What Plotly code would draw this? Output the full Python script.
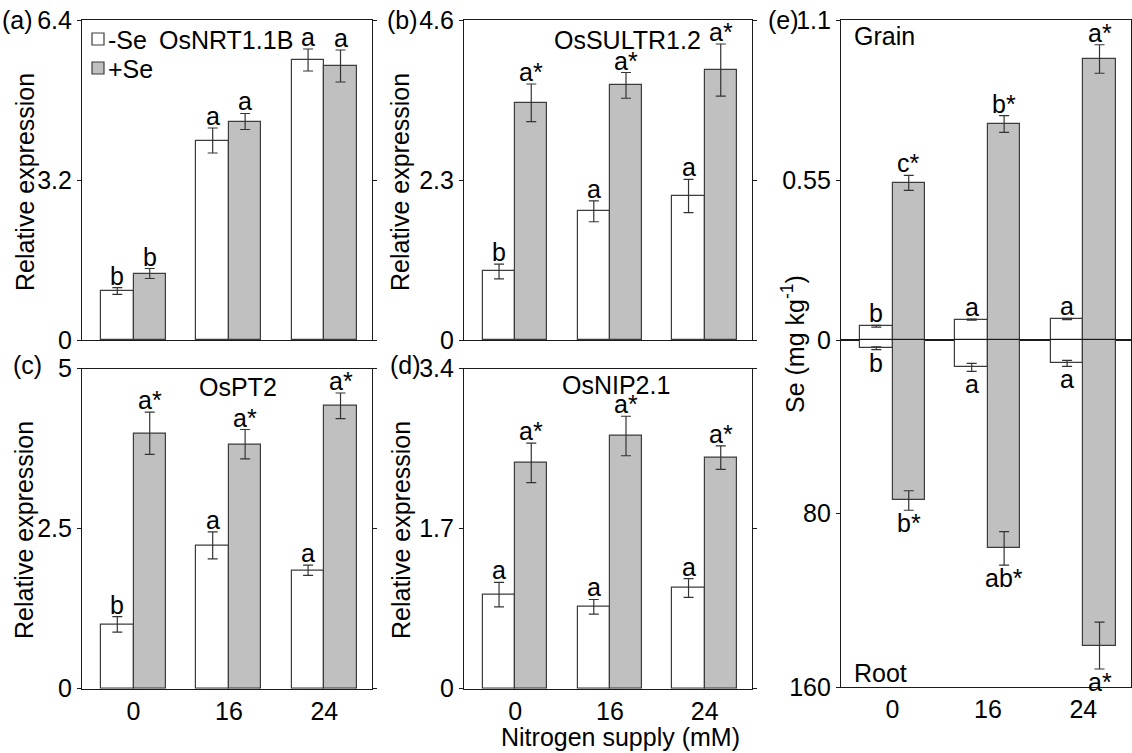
import plotly.graph_objects as go

W, H = 1132, 753
nitrogen = ["0", "16", "24"]
xpos = [0, 1, 2]

# (a) OsNRT1.1B
a_minus = [0.98, 3.99, 5.60]
a_minus_err = [0.066, 0.25, 0.22]
a_plus = [1.33, 4.37, 5.48]
a_plus_err = [0.10, 0.16, 0.32]
a_minus_lbl = ["b", "a", "a"]
a_plus_lbl = ["b", "a", "a"]
a_ticks = [0, 3.2, 6.4]
a_ticktext = ["0", "3.2", "6.4"]

# (b) OsSULTR1.2
b_minus = [0.985, 1.85, 2.07]
b_minus_err = [0.106, 0.15, 0.24]
b_plus = [3.41, 3.66, 3.88]
b_plus_err = [0.27, 0.185, 0.375]
b_minus_lbl = ["b", "a", "a"]
b_plus_lbl = ["a*", "a*", "a*"]
b_ticks = [0, 2.3, 4.6]
b_ticktext = ["0", "2.3", "4.6"]

# (c) OsPT2
c_minus = [1.005, 2.24, 1.85]
c_minus_err = [0.12, 0.21, 0.08]
c_plus = [3.99, 3.82, 4.42]
c_plus_err = [0.33, 0.23, 0.20]
c_minus_lbl = ["b", "a", "a"]
c_plus_lbl = ["a*", "a*", "a*"]
c_ticks = [0, 2.5, 5]
c_ticktext = ["0", "2.5", "5"]

# (d) OsNIP2.1
d_minus = [1.00, 0.87, 1.07]
d_minus_err = [0.13, 0.078, 0.10]
d_plus = [2.40, 2.685, 2.455]
d_plus_err = [0.21, 0.21, 0.124]
d_minus_lbl = ["a", "a", "a"]
d_plus_lbl = ["a*", "a*", "a*"]
d_ticks = [0, 1.7, 3.4]
d_ticktext = ["0", "1.7", "3.4"]

# (e) Se concentration, grain (top) and root (bottom)
grain_minus = [0.047, 0.070, 0.072]
grain_minus_err = [0.003, 0.002, 0.002]
grain_plus = [0.54, 0.7425, 0.966]
grain_plus_err = [0.026, 0.029, 0.049]
grain_minus_lbl = ["b", "a", "a"]
grain_plus_lbl = ["c*", "b*", "a*"]
grain_ticks = [0, 0.55, 1.1]
grain_ticktext = ["0", "0.55", "1.1"]

root_minus = [3.8, 12.6, 10.8]
root_minus_err = [0.6, 1.85, 1.4]
root_plus = [74.0, 96.1, 140.9]
root_plus_err = [4.5, 7.7, 10.8]
root_minus_lbl = ["b", "a", "a"]
root_plus_lbl = ["b*", "ab*", "a*"]
root_ticks = [80, 160]
root_ticktext = ["80", "160"]

FONT = "Liberation Sans, Arial, sans-serif"
FS = 25
LINE = "#1a1a1a"
BAR_LINE = "#3c3c3c"
GREY = "#c0c0c0"
ERR = "#333333"
BW = 0.34
XR = [-0.54, 2.5]


def px(x):
    return x / W


def py(y):
    return 1 - y / H


fig = go.Figure()

panels = {
    "a": (1, (82, 372), (20, 340)),
    "b": (2, (464, 752), (20, 340)),
    "c": (3, (82, 372), (368.7, 688.7)),
    "d": (4, (464, 752), (368.7, 688.7)),
    "e1": (5, (841, 1131), (20, 340)),
    "e2": (6, (841, 1131), (340, 687)),
}

annotations = []


def add_bars(n, minus, minus_err, plus, plus_err, minus_lbl, plus_lbl, below=False):
    xa = "x" if n == 1 else f"x{n}"
    ya = "y" if n == 1 else f"y{n}"
    fig.add_trace(go.Bar(
        x=xpos, y=minus, width=BW, offset=-BW, xaxis=xa, yaxis=ya,
        marker=dict(color="white", line=dict(color=BAR_LINE, width=1.2)),
        error_y=dict(type="data", array=minus_err, color=ERR, thickness=1.2, width=5),
        showlegend=False, name="-Se"))
    fig.add_trace(go.Bar(
        x=xpos, y=plus, width=BW, offset=0, xaxis=xa, yaxis=ya,
        marker=dict(color=GREY, line=dict(color=BAR_LINE, width=1.2)),
        error_y=dict(type="data", array=plus_err, color=ERR, thickness=1.2, width=5),
        showlegend=False, name="+Se"))
    for vals, errs, lbls, dx in ((minus, minus_err, minus_lbl, -BW / 2),
                                 (plus, plus_err, plus_lbl, BW / 2)):
        for i, (v, e, t) in enumerate(zip(vals, errs, lbls)):
            annotations.append(dict(
                x=xpos[i] + dx, y=v + e, xref=xa, yref=ya, text=t,
                showarrow=False, xanchor="center",
                yanchor="top" if below else "bottom",
                yshift=3 if below else -4,
                font=dict(size=FS, family=FONT, color="black")))


add_bars(1, a_minus, a_minus_err, a_plus, a_plus_err, a_minus_lbl, a_plus_lbl)
add_bars(2, b_minus, b_minus_err, b_plus, b_plus_err, b_minus_lbl, b_plus_lbl)
add_bars(3, c_minus, c_minus_err, c_plus, c_plus_err, c_minus_lbl, c_plus_lbl)
add_bars(4, d_minus, d_minus_err, d_plus, d_plus_err, d_minus_lbl, d_plus_lbl)
add_bars(5, grain_minus, grain_minus_err, grain_plus, grain_plus_err, grain_minus_lbl, grain_plus_lbl)
add_bars(6, root_minus, root_minus_err, root_plus, root_plus_err, root_minus_lbl, root_plus_lbl, below=True)

yinfo = {
    1: (a_ticks, a_ticktext, [0, 6.4]),
    2: (b_ticks, b_ticktext, [0, 4.6]),
    3: (c_ticks, c_ticktext, [0, 5]),
    4: (d_ticks, d_ticktext, [0, 3.4]),
    5: (grain_ticks, grain_ticktext, [0, 1.1]),
    6: (root_ticks, root_ticktext, [160, 0]),
}
xlabels_on = {1: False, 2: False, 3: True, 4: True, 5: False, 6: True}

layout = dict(
    width=W, height=H, margin=dict(l=0, r=0, t=0, b=0, autoexpand=False),
    paper_bgcolor="white", plot_bgcolor="white",
    font=dict(family=FONT, size=FS, color="black"),
    showlegend=False, bargap=0,
)
for key, (n, (x0, x1), (y0, y1)) in panels.items():
    sx = "" if n == 1 else str(n)
    layout[f"xaxis{sx}"] = dict(
        domain=[px(x0), px(x1)], range=XR, anchor=f"y{sx}", automargin=False,
        tickvals=xpos, ticktext=nitrogen, showticklabels=xlabels_on[n],
        ticks="", showgrid=False, zeroline=False, showline=True, mirror=True,
        linecolor=LINE, linewidth=1.2,
        tickfont=dict(size=FS, family=FONT, color="black"), fixedrange=True)
    tv, tt, rng = yinfo[n]
    layout[f"yaxis{sx}"] = dict(
        domain=[py(y1), py(y0)], range=rng, anchor=f"x{sx}", automargin=False,
        tickvals=tv, ticktext=tt, ticks="outside", ticklen=4, tickcolor=LINE,
        showgrid=False, zeroline=False, showline=True, mirror="ticks",
        linecolor=LINE, linewidth=1.2,
        tickfont=dict(size=FS, family=FONT, color="black"), fixedrange=True)


def ptext(text, x, y, xanchor="left", angle=0, size=FS):
    annotations.append(dict(
        x=px(x), y=py(y), xref="paper", yref="paper", text=text,
        showarrow=False, xanchor=xanchor, yanchor="middle", textangle=angle,
        font=dict(size=size, family=FONT, color="black")))


# panel letters
ptext("(a)", 0, 20)
ptext("(b)", 385, 20)
ptext("(c)", 11, 365)
ptext("(d)", 388, 365)
ptext("(e)", 766, 20)

# gene / tissue titles
ptext("OsNRT1.1B", 226, 40, "center")
ptext("OsSULTR1.2", 627, 40, "center")
ptext("OsPT2", 238, 387, "center")
ptext("OsNIP2.1", 616, 385, "center")
ptext("Grain", 852, 36, "left")
ptext("Root", 852, 673, "left")

# axis titles
ptext("Relative expression", 25, 182, "center", -90)
ptext("Relative expression", 24, 530, "center", -90)
ptext("Relative expression", 400, 182, "center", -90)
ptext("Relative expression", 401, 530, "center", -90)
ptext("Se (mg kg<sup>-1</sup>)", 793, 344, "center", -90)
ptext("Nitrogen supply (mM)", 620, 737, "center")

# legend
shapes = [
    dict(type="rect", xref="paper", yref="paper", x0=px(92), x1=px(104), y0=py(45), y1=py(33),
         fillcolor="white", line=dict(color=BAR_LINE, width=1.2)),
    dict(type="rect", xref="paper", yref="paper", x0=px(92), x1=px(104), y0=py(74), y1=py(62),
         fillcolor=GREY, line=dict(color=BAR_LINE, width=1.2)),
]
ptext("-Se", 106, 40)
ptext("+Se", 106, 69)

layout["annotations"] = annotations
layout["shapes"] = shapes
fig.update_layout(**layout)
fig.write_html(
    "out.html",
    config={"displayModeBar": False},
    post_script="document.body.style.margin='0';document.body.style.overflow='hidden';",
)
